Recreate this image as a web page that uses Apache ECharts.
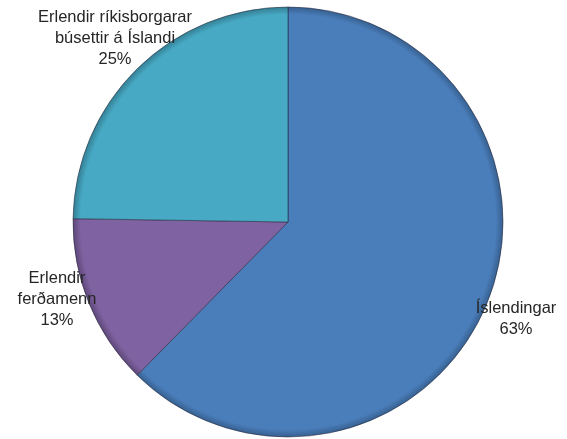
<!DOCTYPE html>
<html><head><meta charset="utf-8">
<script src="https://cdn.jsdelivr.net/npm/echarts@6/dist/echarts.min.js"></script>
<style>html,body{margin:0;padding:0;background:#fff}#c{width:567px;height:439px}</style>
</head><body><div id="c"></div>
<script>
const categories = ['Íslendingar', 'Erlendir ferðamenn', 'Erlendir ríkisborgarar búsettir á Íslandi'];
const labelTexts = ['Íslendingar', 'Erlendir\nferðamenn', 'Erlendir ríkisborgarar\nbúsettir á Íslandi'];
const values = [63, 13, 25];
const colors = ['#4a7ebb', '#7f62a1', '#47a9c4'];
const edgeColors = ['#37608f', '#5e4879', '#347f93'];
const labelPos = [[516, 319], [57, 299], [115, 38]];

const chart = echarts.init(document.getElementById('c'));
chart.setOption({
  animation: false,
  series: [{
    type: 'pie',
    center: [288, 222],
    radius: [0, 215],
    startAngle: 90,
    clockwise: true,
    data: categories.map((n, i) => ({
      name: n, value: values[i],
      itemStyle: {
        color: {
          type: 'radial', x: 288, y: 222, r: 215, global: true,
          colorStops: [
            {offset: 0, color: colors[i]},
            {offset: 0.965, color: colors[i]},
            {offset: 1, color: edgeColors[i]}
          ]
        }
      }
    })),
    itemStyle: {borderColor: 'rgba(30,30,50,0.5)', borderWidth: 1},
    label: {
      show: true,
      position: 'inside',
      formatter: p => labelTexts[p.dataIndex] + '\n' + p.value + '%',
      fontFamily: 'Liberation Sans, Arial, sans-serif',
      fontSize: 16.5,
      lineHeight: 21,
      color: '#262626',
      align: 'center'
    },
    labelLine: {show: false},
    labelLayout: p => ({x: labelPos[p.dataIndex][0], y: labelPos[p.dataIndex][1], align: 'center', verticalAlign: 'middle'})
  }]
});
</script></body></html>
